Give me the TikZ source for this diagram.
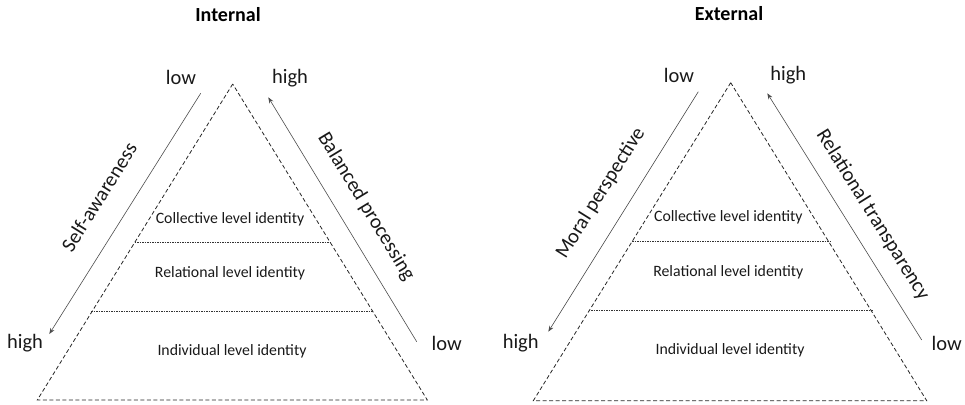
\documentclass[tikz,border=0pt]{standalone}
\usepackage{fontspec}
\setmainfont{Carlito}
\usetikzlibrary{arrows.meta}

\tikzset{
    pyramid/.style={draw=black!85, dash pattern=on 4pt off 2.5pt, line width=0.8pt},
    divider/.style={draw=black!80, dash pattern=on 1.5pt off 1pt, line width=0.8pt},
    axis/.style={draw=black!70, line width=0.6pt, -{Stealth[length=6pt,width=4.5pt]}},
    scale label/.style={font=\fontsize{20.5}{24}\selectfont, text=black!90, inner sep=1pt},
    level label/.style={font=\fontsize{15.8}{19}\selectfont, text=black!90},
    title label/.style={font=\fontsize{20}{24}\selectfont\bfseries, text=black}
}

\begin{document}
\begin{tikzpicture}[x=1pt,y=-1pt]

    \useasboundingbox (0,0) rectangle (965,404);

    % internal pyramid

    \node[title label] (inTitle) at (228,15) {Internal};

    \coordinate (inTop) at (232.7,84);
    \coordinate (inLeft) at (37.3,400);
    \coordinate (inRight) at (427.3,400);
    \draw[pyramid] (inTop) -- (inLeft) -- (inRight) -- cycle;

    \coordinate (inUpA) at (134.6,242.7);
    \coordinate (inUpB) at (332,242.7);
    \coordinate (inLowA) at (91,311.7);
    \coordinate (inLowB) at (373,311.7);
    \draw[divider] (inUpA) -- (inUpB);
    \draw[divider] (inLowA) -- (inLowB);

    \node[level label] (inCollective) at (230,219) {Collective level identity};
    \node[level label] (inRelational) at (230,273) {Relational level identity};
    \node[level label] (inIndividual) at (232,351) {Individual level identity};

    % scales beside the internal pyramid
    \coordinate (selfStart) at (200.7,93.3);
    \coordinate (selfEnd) at (49.3,334);
    \draw[axis] (selfStart) -- (selfEnd);
    \node[scale label] (selfLow) at (181,77) {low};
    \node[scale label] (selfHigh) at (25,343) {high};
    \node[scale label, rotate=58] (selfName) at (99,197) {Self-awareness};

    \coordinate (balStart) at (416.7,341.7);
    \coordinate (balEnd) at (268.3,97.3);
    \draw[axis] (balStart) -- (balEnd);
    \node[scale label] (balHigh) at (290,78) {high};
    \node[scale label] (balLow) at (446.7,343) {low};
    \node[scale label, rotate=-58.7] (balName) at (366,206.7) {Balanced processing};

    % external pyramid

    \node[title label] (exTitle) at (729,14) {External};

    \coordinate (exTop) at (730.7,82.7);
    \coordinate (exLeft) at (533.3,400.7);
    \coordinate (exRight) at (926.7,400.7);
    \draw[pyramid] (exTop) -- (exLeft) -- (exRight) -- cycle;

    \coordinate (exUpA) at (632,241.7);
    \coordinate (exUpB) at (830,241.7);
    \coordinate (exLowA) at (588.5,310.7);
    \coordinate (exLowB) at (872.5,310.7);
    \draw[divider] (exUpA) -- (exUpB);
    \draw[divider] (exLowA) -- (exLowB);

    \node[level label] (exCollective) at (728.3,217.3) {Collective level identity};
    \node[level label] (exRelational) at (728.3,272) {Relational level identity};
    \node[level label] (exIndividual) at (730,350) {Individual level identity};

    % scales beside the external pyramid
    \coordinate (moralStart) at (698.3,91.7);
    \coordinate (moralEnd) at (548.3,331.7);
    \draw[axis] (moralStart) -- (moralEnd);
    \node[scale label] (moralLow) at (679,75) {low};
    \node[scale label] (moralHigh) at (520.7,342.7) {high};
    \node[scale label, rotate=58] (moralName) at (600.7,193.3) {Moral perspective};

    \coordinate (relStart) at (921.7,340);
    \coordinate (relEnd) at (767.3,93.3);
    \draw[axis] (relStart) -- (relEnd);
    \node[scale label] (relHigh) at (788.3,75) {high};
    \node[scale label] (relLow) at (946.7,343.3) {low};
    \node[scale label, rotate=-58] (relName) at (872.7,215) {Relational transparency};

\end{tikzpicture}
\end{document}
